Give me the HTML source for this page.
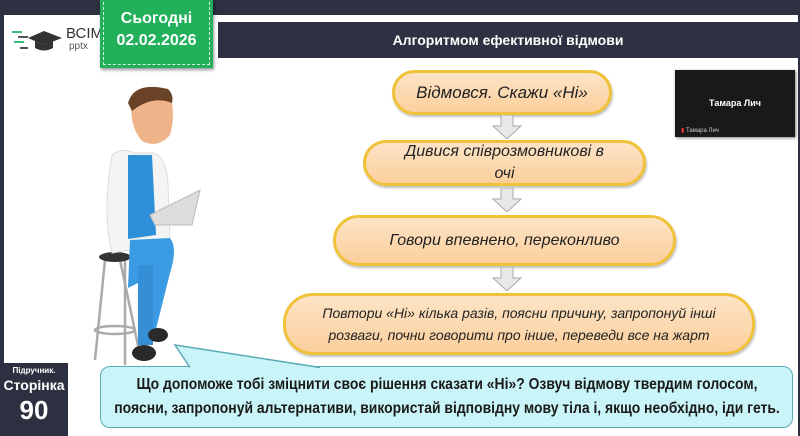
<!DOCTYPE html>
<html><head><meta charset="utf-8"><style>
*{margin:0;padding:0;box-sizing:border-box}
body{width:800px;height:436px;overflow:hidden;background:#2c3040;position:relative;font-family:"Liberation Sans","DejaVu Sans",sans-serif}
.slide{position:absolute;left:4px;top:15px;width:794px;height:421px;background:#fff}
.title{position:absolute;left:218px;top:22px;width:580px;height:36px;background:#2e3142;color:#fff;font-weight:bold;font-size:14px;text-align:center;line-height:36px}
.badge{position:absolute;left:100px;top:0;width:113px;height:68px;background:#22b15a;box-shadow:1px 2px 3px rgba(0,0,0,.4);color:#fff;font-weight:bold;text-align:center;font-size:16px;line-height:22px;padding-top:8px}
.badge:after{content:"";position:absolute;left:3px;top:-3px;right:3px;bottom:3px;border:1.5px dashed #d8f5e2;border-top:none}
.box{position:absolute;background:linear-gradient(#fde4c6,#fbcf9c);border:3px solid #f0c23a;border-radius:30px;font-style:italic;color:#222;text-align:center;display:flex;align-items:center;justify-content:center;box-shadow:1px 2px 2px rgba(0,0,0,.25)}
.arr{position:absolute;width:30px;height:24px}
.vid{position:absolute;left:675px;top:70px;width:120px;height:67px;background:#18191b;color:#fff;font-size:9px;font-weight:bold;box-shadow:1px 1px 3px rgba(0,0,0,.5)}
.panel{position:absolute;left:0;top:363px;width:68px;height:73px;background:#2c3040;color:#fff;text-align:center;font-weight:bold}
.bubble{position:absolute;left:100px;top:366px;width:693px;height:62px;background:#c9f4f8;border:1.5px solid #5aaab5;border-radius:10px;color:#1a1a1a;font-weight:bold;font-size:16px;line-height:24px;padding-top:6px;white-space:nowrap}
.bubble span{display:block;width:max-content;margin-left:50%;transform:translateX(-50%) scaleX(.87);transform-origin:center}
</style></head><body>
<div class="slide"></div>
<div style="position:absolute;left:10px;top:26px;width:90px;height:30px">
<svg width="90" height="30"><g stroke="#3bbf7a" stroke-width="2"><line x1="2" y1="6" x2="12" y2="6"/><line x1="4" y1="16" x2="14" y2="16"/></g><g stroke="#555" stroke-width="2"><line x1="8" y1="11" x2="18" y2="11"/><line x1="10" y1="22" x2="18" y2="22"/></g><polygon points="18,12 34,5 52,12 34,19" fill="#333"/><path d="M25 15 v7 q9 5 18 0 v-7 l-9 4z" fill="#333"/></svg>
<div style="position:absolute;left:56px;top:-1px;font-size:15px;color:#333">ВСІМ</div>
<div style="position:absolute;left:59px;top:15px;font-size:10px;color:#555">pptx</div>
</div>
<div class="badge">Сьогодні<br>02.02.2026</div>
<div class="title">Алгоритмом ефективної відмови</div>

<div class="box" style="left:392px;top:70px;width:220px;height:45px;font-size:17px">Відмовся. Скажи «Ні»</div>
<div class="box" style="left:363px;top:140px;width:283px;height:46px;font-size:16px;line-height:22px">Дивися співрозмовникові в<br>очі</div>
<div class="box" style="left:333px;top:215px;width:343px;height:51px;font-size:16px">Говори впевнено, переконливо</div>
<div class="box" style="left:283px;top:293px;width:472px;height:62px;font-size:14px;line-height:22px">Повтори «Ні» кілька разів, поясни причину, запропонуй інші<br>розваги, почни говорити про інше, переведи все на жарт</div>

<svg class="arr" style="left:492px;top:115px" viewBox="0 0 30 24"><polygon points="9,0 21,0 21,11 29,11 15,24 1,11 9,11" fill="#e8e8e8" stroke="#aaa"/></svg>
<svg class="arr" style="left:492px;top:188px" viewBox="0 0 30 24"><polygon points="9,0 21,0 21,11 29,11 15,24 1,11 9,11" fill="#e8e8e8" stroke="#aaa"/></svg>
<svg class="arr" style="left:492px;top:267px" viewBox="0 0 30 24"><polygon points="9,0 21,0 21,11 29,11 15,24 1,11 9,11" fill="#e8e8e8" stroke="#aaa"/></svg>

<div class="vid"><div style="position:absolute;top:28px;width:100%;text-align:center">Тамара Лич</div><div style="position:absolute;left:6px;bottom:3px;font-size:6px;font-weight:normal;color:#ccc"><span style="color:#e33">▮</span> Тамара Лич</div></div>

<svg style="position:absolute;left:80px;top:85px" width="130" height="290">
<g stroke="#aaa" stroke-width="2.5" fill="none"><line x1="25" y1="175" x2="15" y2="275"/><line x1="45" y1="175" x2="45" y2="280"/><line x1="40" y1="175" x2="60" y2="270"/><ellipse cx="35" cy="245" rx="20" ry="4"/></g>
<ellipse cx="35" cy="172" rx="16" ry="5" fill="#333"/>
<path d="M32 70 q10-8 22-2 l20 0 q12 4 14 30 l2 60 l-58 10 q-10-40 0-98z" fill="#f4f4f4" stroke="#ddd"/>
<path d="M48 70 l24 0 l4 80 l-28 4z" fill="#2f8fd8"/>
<path d="M50 155 l40 -2 q8 10 0 35 l-15 60 l-15 0 l8-55 l-20 10z" fill="#3a9be3"/>
<path d="M58 180 l15 0 l0 80 l-15 0z" fill="#348fd6"/>
<ellipse cx="78" cy="250" rx="10" ry="7" fill="#2a2a2a"/>
<ellipse cx="64" cy="268" rx="12" ry="8" fill="#2a2a2a"/>
<polygon points="70,130 120,105 112,140 75,140" fill="#ddd" stroke="#bbb"/>
<path d="M52 10 q18-14 38 0 q6 20 0 40 q-12 14-28 6 q-14-16-10-46z" fill="#f0b48a"/>
<path d="M48 18 q6-22 40-14 q6 6 4 14 q-20-8-40 8z" fill="#6a4228"/>
</svg>

<div class="panel"><div style="font-size:8px;margin-top:3px">Підручник.</div><div style="font-size:14px;margin-top:2px">Сторінка</div><div style="font-size:26px;margin-top:2px">90</div></div>

<div class="bubble"><span>Що допоможе тобі зміцнити своє рішення сказати «Ні»? Озвуч відмову твердим голосом,</span><span>поясни, запропонуй альтернативи, використай відповідну мову тіла і, якщо необхідно, іди геть.</span></div>
<svg style="position:absolute;left:170px;top:340px" width="160" height="40"><polygon points="5,5 150,28 20,28" fill="#c9f4f8"/><polyline points="20,27.5 5,5 150,27.5" fill="none" stroke="#5aaab5" stroke-width="1.5"/></svg>
</body></html>
